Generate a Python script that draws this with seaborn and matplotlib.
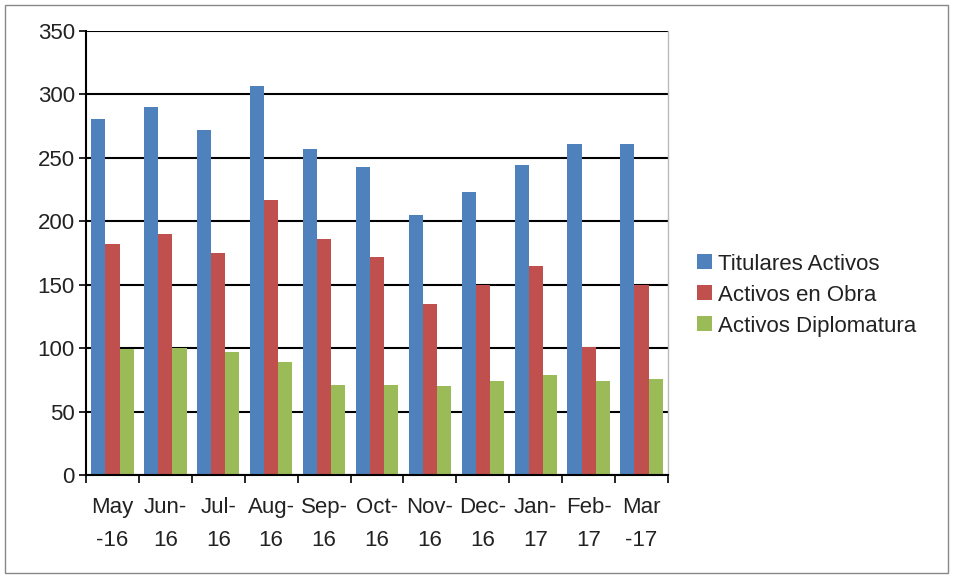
import pandas as pd
import matplotlib.pyplot as plt
import seaborn as sns

# data
months = ["May\n-16", "Jun-\n16", "Jul-\n16", "Aug-\n16", "Sep-\n16", "Oct-\n16",
          "Nov-\n16", "Dec-\n16", "Jan-\n17", "Feb-\n17", "Mar\n-17"]
titulares = [281, 290, 272, 307, 257, 243, 205, 223, 244, 261, 261]
obra = [182, 190, 175, 217, 186, 172, 135, 150, 165, 101, 150]
diplomatura = [99, 100, 97, 89, 71, 71, 70, 74, 79, 74, 76]
series_names = ["Titulares Activos", "Activos en Obra", "Activos Diplomatura"]
colors = ["#4F81BD", "#C0504D", "#9BBB59"]

df = pd.DataFrame({"month": months * 3,
                   "value": titulares + obra + diplomatura,
                   "serie": sum([[s] * len(months) for s in series_names], [])})

sns.set_style("white")
plt.rcParams['font.family'] = ['Liberation Sans', 'DejaVu Sans']
plt.rcParams['text.color'] = "#222222"

fig = plt.figure(figsize=(9.55, 5.77), dpi=100)
ax = fig.add_axes([86 / 955, 1 - 475 / 577, 582 / 955, 444 / 577])

sns.barplot(data=df, x="month", y="value", hue="serie", palette=colors,
            width=0.8, saturation=1, linewidth=0, ax=ax, errorbar=None)

ax.set_ylim(0, 350)
ax.set_xlim(-0.5, len(months) - 0.5)
ax.set_yticks(range(0, 351, 50))
ax.yaxis.grid(True, color="black", linewidth=1.5)
ax.set_axisbelow(True)
ax.set_xlabel("")
ax.set_ylabel("")

# category ticks at boundaries, labels centered
ax.set_xticks([i + 0.5 for i in range(-1, len(months))], minor=False)
ax.set_xticklabels([])
ax.set_xticks(range(len(months)), minor=True)
ax.set_xticklabels(months, minor=True, fontsize=16, linespacing=1.75, color="#222222")
ax.tick_params(axis="x", which="major", length=6, width=1.2, color="black", direction="out", bottom=True)
ax.tick_params(axis="x", which="minor", length=0, pad=16)
ax.tick_params(axis="y", length=5, width=1.2, color="black", direction="out", left=True,
               labelsize=16, pad=3, labelcolor="#222222")

for side in ["left", "bottom"]:
    ax.spines[side].set_color("black")
    ax.spines[side].set_linewidth(1.5)
ax.spines["top"].set_visible(False)
ax.spines["right"].set_color("#BBBBBB")
ax.spines["right"].set_linewidth(1)

ax.legend(loc="center left", bbox_to_anchor=(1.035, 0.405), frameon=False, fontsize=16,
          handlelength=0.65, handleheight=0.65, handletextpad=0.3, labelspacing=0.45,
          borderaxespad=0)

# outer frame of the chart
fig.patches.append(plt.Rectangle((5 / 955, 4 / 577), 943 / 955, 568 / 577, transform=fig.transFigure,
                                 fill=False, edgecolor="#888888", linewidth=1))

fig.savefig("out.png", dpi=100)
